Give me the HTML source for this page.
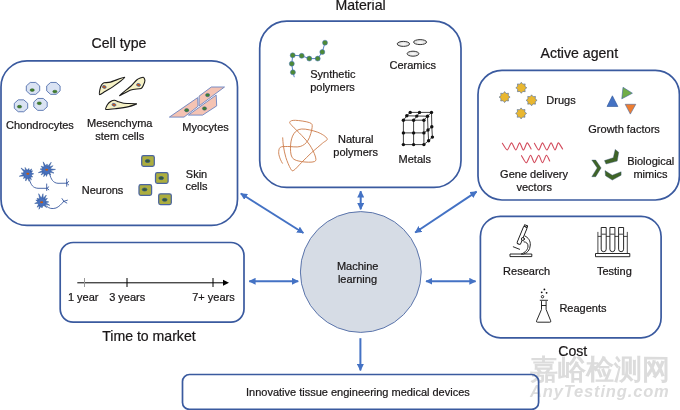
<!DOCTYPE html>
<html><head><meta charset="utf-8">
<style>
html,body{margin:0;padding:0;background:#fff;width:680px;height:410px;overflow:hidden}
svg{display:block;will-change:transform}
text{font-family:"Liberation Sans",sans-serif;fill:#1a1718;stroke:#1a1718;stroke-width:0.22px}
</style></head><body>
<svg width="680" height="410" viewBox="0 0 680 410">
<defs>
<marker id="ah" viewBox="0 0 10 10" refX="9" refY="5" markerWidth="3.5" markerHeight="3.5" orient="auto-start-reverse" markerUnits="strokeWidth">
<path d="M0,0 L10,5 L0,10 z" fill="#4472c4"/>
</marker>
</defs>
<!-- watermark -->
<g id="wm">
<text x="530" y="378.5" font-size="28" style="stroke:none;fill:#dcdcdc;font-weight:bold">嘉峪检测网</text>
<text x="530" y="396.8" font-size="16.5" style="stroke:none;fill:#dcdcdc;font-style:italic;font-weight:bold;letter-spacing:0.85px">AnyTesting.com</text>
</g>

<!-- boxes -->
<g fill="none" stroke="#3a5a9f" stroke-width="1.7">
<rect x="1" y="60.9" width="236.5" height="164.45" rx="26"/>
<rect x="259.7" y="21.2" width="201.3" height="166.2" rx="27"/>
<rect x="478" y="70.4" width="201.4" height="129.6" rx="24"/>
<rect x="480.4" y="216.4" width="180.7" height="121.4" rx="20"/>
<rect x="60.2" y="242.5" width="183.8" height="79.6" rx="13"/>
<rect x="182.5" y="374.5" width="356.1" height="34.9" rx="7"/>
</g>
<circle cx="360.8" cy="272" r="60.4" fill="#d6dce5" stroke="#5a74ab" stroke-width="1"/>

<!-- arrows -->
<g stroke="#4472c4" stroke-width="2" marker-start="url(#ah)" marker-end="url(#ah)">
<line x1="240.8" y1="193.5" x2="303.4" y2="233"/>
<line x1="476.6" y1="191.6" x2="415.2" y2="232.5"/>
<line x1="360.7" y1="191.2" x2="360.7" y2="209.3"/>
<line x1="249.3" y1="281.3" x2="298.2" y2="281.3"/>
<line x1="426.1" y1="281.3" x2="475.6" y2="281.3"/>
</g>
<line x1="360.4" y1="338.2" x2="360.4" y2="370.4" stroke="#4472c4" stroke-width="2" marker-end="url(#ah)"/>

<!-- titles -->
<g font-size="14.1">
<text x="91.5" y="47.9">Cell type</text>
<text x="335.5" y="10.2">Material</text>
<text x="540.5" y="57.5">Active agent</text>
<text x="102.2" y="340.9">Time to market</text>
<text x="558.3" y="355.6">Cost</text>
</g>
<g font-size="11">
<text x="6" y="128.6">Chondrocytes</text>
<text x="87" y="127">Mesenchyma</text>
<text x="95.3" y="139.8">stem cells</text>
<text x="182.3" y="130.7">Myocytes</text>
<text x="81.8" y="193.8">Neurons</text>
<text x="185.8" y="177.6">Skin</text>
<text x="185.5" y="190.3">cells</text>
<text x="310.2" y="78.1">Synthetic</text>
<text x="310.2" y="91.2">polymers</text>
<text x="389.5" y="69">Ceramics</text>
<text x="338" y="142.6">Natural</text>
<text x="333.3" y="155.9">polymers</text>
<text x="398.6" y="163.2">Metals</text>
<text x="546.3" y="104">Drugs</text>
<text x="588.3" y="132.9">Growth factors</text>
<text x="500.1" y="178">Gene delivery</text>
<text x="516.5" y="190.6">vectors</text>
<text x="627.2" y="165.4">Biological</text>
<text x="633.4" y="178">mimics</text>
<text x="503.1" y="274.6">Research</text>
<text x="596.9" y="274.6">Testing</text>
<text x="559.4" y="311.8">Reagents</text>
<text x="336.9" y="269.8">Machine</text>
<text x="337.9" y="283.1">learning</text>
<text x="67.9" y="301.4">1 year</text>
<text x="109.2" y="301.4">3 years</text>
<text x="192.2" y="301.4">7+ years</text>
<text x="246" y="396">Innovative tissue engineering medical devices</text>
</g>

<!-- timeline -->
<g stroke="#000" stroke-width="1">
<line x1="77.3" y1="282.8" x2="226" y2="282.8"/>
<line x1="84.5" y1="278" x2="84.5" y2="287" stroke="#999"/>
<line x1="127" y1="278" x2="127" y2="287"/>
<line x1="213" y1="278" x2="213" y2="287"/>
</g>
<path d="M229,282.8 L223,279.8 L223,285.8 z" fill="#000"/>

<!-- ICONS -->
<g stroke="#5470ae" stroke-width="0.9" fill="#dae3f3">
<path d="M39.7,90.87 L35.77,94.36 L30.23,94.36 L26.3,90.87 L26.3,85.93 L30.23,82.44 L35.77,82.44 L39.7,85.93Z"/>
<path d="M60.1,90.87 L56.17,94.36 L50.63,94.36 L46.7,90.87 L46.7,85.93 L50.63,82.44 L56.17,82.44 L60.1,85.93Z"/>
<path d="M27.7,108.27 L23.77,111.76 L18.23,111.76 L14.3,108.27 L14.3,103.33 L18.23,99.84 L23.77,99.84 L27.7,103.33Z"/>
<path d="M47.2,106.87 L43.27,110.36 L37.73,110.36 L33.8,106.87 L33.8,101.93 L37.73,98.44 L43.27,98.44 L47.2,101.93Z"/>
</g><g fill="#3f7f2c" stroke="#2e5d2a" stroke-width="0.5">
<ellipse cx="32.2" cy="90.1" rx="2.15" ry="1.4"/>
<ellipse cx="54.9" cy="91.6" rx="2.15" ry="1.4"/>
<ellipse cx="19.5" cy="106.7" rx="2.15" ry="1.4"/>
<ellipse cx="39.3" cy="103.3" rx="2.15" ry="1.4"/>
</g>
<g fill="#f6f2c6" stroke="#1a1a1a" stroke-width="1.1" stroke-linejoin="round">
<path d="M99.6,94.6 C99.09,94.4 99.71,90.46 99.9,89.5 C100.09,88.54 101.09,85.67 101.5,85 C101.91,84.33 103.11,83.09 104,82.8 C104.89,82.51 108.33,82.66 110.4,82.1 C112.47,81.54 124.4,76.77 124.7,77.2 C125,77.63 115.37,84.97 113.4,86.4 C111.43,87.83 106.38,90.68 105,91.5 C103.62,92.32 100.11,94.8 99.6,94.6Z"/>
<path d="M119.6,95.6 C119.61,95.2 129.26,87.59 131,86 C132.74,84.41 135.78,80.58 137,79.7 C138.22,78.82 142.41,77.12 143.2,77.2 C143.99,77.28 144.87,79.72 144.9,80.5 C144.93,81.28 143.88,84.21 143.5,85 C143.12,85.79 142.36,87.9 141.1,88.4 C139.84,88.9 133.05,89.28 130.9,90 C128.75,90.72 119.59,96 119.6,95.6Z"/>
<path d="M105.8,109.4 C104.95,108.99 106.98,105.32 107.5,104.5 C108.02,103.68 110.3,101.63 111,101.2 C111.7,100.77 113.74,100.14 114.5,100.2 C115.26,100.26 117.68,101.49 118.6,101.8 C119.52,102.11 121.91,103.1 123.7,103.3 C125.49,103.5 135.99,103.47 136.5,103.8 C137.01,104.13 130.85,106.12 128.8,106.6 C126.75,107.08 118.3,108.32 116,108.6 C113.7,108.88 106.65,109.81 105.8,109.4Z"/>
</g><g fill="#c55a11" stroke="#3a62b0" stroke-width="0.7">
<ellipse cx="104.2" cy="86.9" rx="2" ry="1.4" transform="rotate(15 104.2 86.9)"/>
<ellipse cx="138.5" cy="84.9" rx="2" ry="1.4" transform="rotate(15 138.5 84.9)"/>
<ellipse cx="114" cy="104.8" rx="2" ry="1.4" transform="rotate(15 114 104.8)"/>
</g>
<g fill="#f4c3b3" stroke="#6b83c2" stroke-width="0.9" stroke-linejoin="miter">
<path d="M169.4,117.1 L197.7,97.6 L198,106.3 L184,117.1Z"/>
<path d="M199.1,96.1 L211.3,87 L224.5,87 L199.1,105.9Z"/>
<path d="M188.4,115.1 L216.2,95.1 L216.7,105.9 L202.6,115.1Z"/>
</g><g fill="#3f7f2c" stroke="#2d5a8a" stroke-width="0.5">
<ellipse cx="186.7" cy="110.2" rx="2.1" ry="1.7"/>
<ellipse cx="207.6" cy="95.1" rx="2.1" ry="1.7"/>
<ellipse cx="204.5" cy="108.5" rx="2.1" ry="1.7"/>
</g>
<g fill="none" stroke="#3a5a9f" stroke-width="0.9" stroke-linecap="round">
<path d="M29.6,180 C31,185 33,188 38,188.3 L47,188.3 M46.7,184 L46.7,190.5 M47,188.3 L48.8,186.8 M47,188.3 L48.8,189.8"/>
<path d="M49.8,174.6 C51,179 53,183 58,183.3 L66.6,183.2 M66.7,179 L66.7,186.3 M66.7,183.2 L68.7,181.5 M66.7,183.2 L68.7,184.9"/>
<path d="M46.7,206.3 C49,208.5 52,209.2 56,208 C59,206.8 61.5,204 63.8,201.3 M63.8,201.3 L62,198.6 M63.8,201.3 L67.4,200.2 M63.8,201.3 L66.8,203"/>
</g>
<g fill="#4670be" stroke="#2f5597" stroke-width="0.5" stroke-linejoin="miter">
<path d="M31.36,173.06 L33.71,173.84 L31.44,174.81 L31.71,174.95 L31.32,175.28 L32.66,177.05 L30.46,176.8 L30.61,177.07 L30.41,176.84 L31.4,179.85 L28.97,177.82 L28.99,178.13 L29.23,177.71 L29.17,181.34 L27.53,178.1 L27.44,178.4 L27.37,178.1 L25.71,181.06 L25.68,177.66 L25.46,177.89 L25.5,177.57 L23.44,178.53 L24.22,176.39 L23.92,176.48 L23.95,175.95 L19.26,176.29 L23.5,174.26 L23.2,174.18 L23.51,174.37 L21.11,173.13 L23.77,172.65 L23.53,172.45 L24.06,172.06 L20.99,167.97 L25.26,170.79 L25.17,170.49 L25.36,170.72 L25.12,167.46 L27.01,170.13 L27.06,169.82 L27.56,170.1 L28.87,168.4 L29.26,170.51 L29.47,170.28 L29.31,170.53 L31.76,168.94 L30.66,171.65 L30.95,171.54 L30.32,171.26 L32.64,170.81 L31.26,172.73 L31.57,172.72Z"/>
<path d="M50.34,168.87 L55.47,169.41 L50.45,170.62 L50.73,170.75 L50.44,170.69 L53.99,173.11 L49.77,172.3 L49.96,172.55 L49.69,172.41 L50.74,174.99 L48.36,173.54 L48.42,173.85 L47.38,173.9 L46.51,176.42 L45.63,173.9 L45.48,174.18 L45.8,173.94 L43.69,176.71 L44.19,173.26 L43.94,173.45 L44.19,173.27 L41.02,174.96 L43.02,171.97 L42.72,172.04 L43.06,172.04 L38.38,172.65 L42.52,170.38 L42.21,170.32 L42.51,170.31 L40.07,169.07 L42.76,168.58 L42.51,168.39 L42.8,168.48 L41.08,166.21 L43.8,167.05 L43.67,166.77 L44.23,166.71 L43.2,161.86 L45.84,166.05 L45.89,165.74 L45.99,166.03 L47.06,163.94 L47.73,166.19 L47.91,165.94 L47.78,166.21 L51.22,162.23 L49.27,167.12 L49.55,166.97 L49.26,167.11 L53.01,165.66 L50.23,168.56 L50.54,168.54Z"/>
<path d="M45.7,201.09 L48.78,201.94 L45.71,202.84 L45.98,202.99 L45.74,202.7 L49.79,205.35 L45.06,204.31 L45.25,204.56 L45.04,204.35 L46.71,207.57 L43.73,205.51 L43.79,205.81 L42.77,205.88 L41.95,207.97 L41.03,205.92 L40.88,206.2 L41.18,205.95 L38.94,209.26 L39.56,205.31 L39.31,205.51 L39.83,205.48 L37.11,207.19 L38.53,204.31 L38.24,204.4 L38.14,203.6 L34.69,203.39 L37.8,201.89 L37.51,201.79 L37.81,201.7 L35.83,200.18 L38.32,200.03 L38.11,199.8 L38.18,200.29 L37.01,198.26 L39.26,198.91 L39.14,198.62 L39.6,198.66 L38.67,193.71 L41.24,198.04 L41.29,197.73 L41.49,198.01 L42.99,193.74 L43.22,198.26 L43.41,198.01 L43.19,198.25 L46.3,195.08 L44.66,199.2 L44.94,199.06 L44.59,199.13 L47.4,198.34 L45.55,200.59 L45.86,200.58Z"/>
</g>
</g><g fill="#c55a11">
<ellipse cx="27.8" cy="173.8" rx="1.5" ry="1"/>
<ellipse cx="46.7" cy="169.8" rx="1.5" ry="1"/>
<ellipse cx="41.6" cy="202.3" rx="1.5" ry="1"/>
</g>
<g fill="#acae3e" stroke="#4a64a0" stroke-width="1.25">
<rect x="141.7" y="155.6" width="12.6" height="10.8" rx="1.8"/>
<rect x="155.5" y="172.6" width="12.6" height="10.8" rx="1.8"/>
<rect x="139" y="184.6" width="12.6" height="10.8" rx="1.8"/>
<rect x="158.7" y="193.8" width="12.6" height="10.8" rx="1.8"/>
</g><g fill="#345c2c" stroke="#2f4f90" stroke-width="0.7">
<ellipse cx="147.6" cy="161" rx="2.4" ry="1.5"/>
<ellipse cx="161.2" cy="178.1" rx="2.4" ry="1.5"/>
<ellipse cx="144.6" cy="189.5" rx="2.4" ry="1.5"/>
<ellipse cx="164.7" cy="199.8" rx="2.4" ry="1.5"/>
</g>
<path d="M325,42.7 L322.3,52 L317.7,58.6 L309.3,58.6 L301.7,55.8 L292.7,55.3 L291.8,63.7 L292.9,72.3 L294.3,77.2" fill="none" stroke="#4472c4" stroke-width="0.9"/>
<g fill="#4e8a35" stroke="#4472c4" stroke-width="0.5">
<circle cx="325" cy="42.7" r="2.5"/>
<circle cx="322.3" cy="52" r="2.5"/>
<circle cx="317.7" cy="58.6" r="2.5"/>
<circle cx="309.3" cy="58.6" r="2.5"/>
<circle cx="301.7" cy="55.8" r="2.5"/>
<circle cx="292.7" cy="55.3" r="2.5"/>
<circle cx="291.8" cy="63.7" r="2.5"/>
<circle cx="292.9" cy="72.3" r="2.5"/>
</g>
<defs><radialGradient id="cg" cx="0.5" cy="0.55" r="0.6"><stop offset="0" stop-color="#ffffff"/><stop offset="1" stop-color="#cfcfcf"/></radialGradient></defs>
<g fill="url(#cg)" stroke="#3a3a3a" stroke-width="1">
<ellipse cx="403.4" cy="43.9" rx="6.2" ry="2.5"/>
<ellipse cx="420.1" cy="42.1" rx="6.5" ry="2.5"/>
<ellipse cx="413" cy="53.7" rx="5.9" ry="2.5"/>
</g>
<path d="M282.7,137.8 C282.83,139.25 282.97,143.2 283.5,146.5 C284.03,149.8 284.72,153.9 285.9,157.6 C287.08,161.3 289.28,166.58 290.6,168.7 C291.92,170.82 291.95,171.35 293.8,170.3 C295.65,169.25 298.78,165.3 301.7,162.4 C304.62,159.5 307.85,156.08 311.3,152.9 C314.75,149.72 319.77,145.68 322.4,143.3 C325.03,140.92 327.9,140.45 327.1,138.6 C326.3,136.75 321.83,133.8 317.6,132.2 C313.37,130.6 305.67,128.73 301.7,129 C297.73,129.27 295.65,131.15 293.8,133.8 C291.95,136.45 290.87,140.93 290.6,144.9 C290.33,148.87 290.35,154.82 292.2,157.6 C294.05,160.38 298,160.93 301.7,161.6 C305.4,162.27 312.15,162.53 314.4,161.6 C316.65,160.67 315.98,158.78 315.2,156 C314.42,153.22 311.95,148.33 309.7,144.9 C307.45,141.47 304.62,138.57 301.7,135.4 C298.78,132.23 294.18,128.15 292.2,125.9 C290.22,123.65 289.27,122.83 289.8,121.9 C290.33,120.97 292.08,120.17 295.4,120.3 C298.72,120.43 306.92,121.5 309.7,122.7 C312.48,123.9 312.37,124.58 312.1,127.5 C311.83,130.42 310.08,137.03 308.1,140.2 C306.12,143.37 303.63,145.45 300.2,146.5 C296.77,147.55 290.82,146.37 287.5,146.5 C284.18,146.63 281.77,146.23 280.3,147.3 C278.83,148.37 278.7,150.92 278.7,152.9 C278.7,154.88 279.68,157.48 280.3,159.2 C280.92,160.92 282.05,162.53 282.4,163.2" fill="none" stroke="#cc7a48" stroke-width="0.9" stroke-linecap="round"/>
<path d="M403.4,120.2 L423.9,120.2 M403.4,132.9 L423.9,132.9 M403.4,144.6 L423.9,144.6 M403.4,120.2 L403.4,144.6 M413.6,120.2 L413.6,144.6 M423.9,120.2 L423.9,144.6 M406.8,115.8 L427.5,116.2 M410.2,112.4 L431.5,112.4 M403.4,120.2 L406.8,115.8 M406.8,115.8 L410.2,112.4 M413.6,120.2 L416.8,116.1 M416.8,116.1 L419.5,112.4 M423.9,120.2 L427.5,116.2 M427.5,116.2 L431.5,112.4 M427.5,116.2 L428,130 M428,130 L428.6,140.7 M431.5,112.4 L431.8,126.8 M431.8,126.8 L432.4,137.1 M423.9,132.9 L428,130 M428,130 L431.8,126.8 M423.9,144.6 L428.6,140.7 M428.6,140.7 L432.4,137.1" stroke="#111" stroke-width="0.8" fill="none"/>
<g fill="#111">
<circle cx="403.4" cy="120.2" r="1.7"/>
<circle cx="403.4" cy="132.9" r="1.7"/>
<circle cx="403.4" cy="144.6" r="1.7"/>
<circle cx="413.6" cy="120.2" r="1.7"/>
<circle cx="413.6" cy="132.9" r="1.7"/>
<circle cx="413.6" cy="144.6" r="1.7"/>
<circle cx="423.9" cy="120.2" r="1.7"/>
<circle cx="423.9" cy="132.9" r="1.7"/>
<circle cx="423.9" cy="144.6" r="1.7"/>
<circle cx="406.8" cy="115.8" r="1.7"/>
<circle cx="416.8" cy="116.1" r="1.7"/>
<circle cx="427.5" cy="116.2" r="1.7"/>
<circle cx="410.2" cy="112.4" r="1.7"/>
<circle cx="419.5" cy="112.4" r="1.7"/>
<circle cx="431.5" cy="112.4" r="1.7"/>
<circle cx="428" cy="130" r="1.7"/>
<circle cx="431.8" cy="126.8" r="1.7"/>
<circle cx="428.6" cy="140.7" r="1.7"/>
<circle cx="432.4" cy="137.1" r="1.7"/>
</g>
<g fill="#e9b730" stroke="#4a6aa0" stroke-width="0.6">
<path d="M521.3,82.3 L522.79,84.2 L525.19,83.91 L524.9,86.31 L526.8,87.8 L524.9,89.29 L525.19,91.69 L522.79,91.4 L521.3,93.3 L519.81,91.4 L517.41,91.69 L517.7,89.29 L515.8,87.8 L517.7,86.31 L517.41,83.91 L519.81,84.2Z"/>
<path d="M504.6,91.6 L506.09,93.5 L508.49,93.21 L508.2,95.61 L510.1,97.1 L508.2,98.59 L508.49,100.99 L506.09,100.7 L504.6,102.6 L503.11,100.7 L500.71,100.99 L501,98.59 L499.1,97.1 L501,95.61 L500.71,93.21 L503.11,93.5Z"/>
<path d="M531.6,94.8 L533.09,96.7 L535.49,96.41 L535.2,98.81 L537.1,100.3 L535.2,101.79 L535.49,104.19 L533.09,103.9 L531.6,105.8 L530.11,103.9 L527.71,104.19 L528,101.79 L526.1,100.3 L528,98.81 L527.71,96.41 L530.11,96.7Z"/>
<path d="M521.1,107.9 L522.59,109.8 L524.99,109.51 L524.7,111.91 L526.6,113.4 L524.7,114.89 L524.99,117.29 L522.59,117 L521.1,118.9 L519.61,117 L517.21,117.29 L517.5,114.89 L515.6,113.4 L517.5,111.91 L517.21,109.51 L519.61,109.8Z"/>
</g>
<path d="M612.4,95.8 L607,106.5 L617.9,106.5Z" fill="#4472c4" stroke="#2f5597" stroke-width="0.6"/>
<path d="M623,87.3 L632.4,93.2 L621.8,98.8Z" fill="#70ad47" stroke="#3f5f9f" stroke-width="0.6"/>
<path d="M625.2,104.3 L635.8,104.3 L630.3,114.1Z" fill="#ed7d31" stroke="#4a6aa0" stroke-width="0.6"/>
<g fill="none" stroke="#d2495a" stroke-width="1.1" stroke-linecap="round" stroke-linejoin="round">
<path d="M502.4,143.3 C502.96,144.08 506.14,150.05 507.2,150 C508.26,149.95 510.5,142.9 511.5,142.9 C512.5,142.9 514.85,150 515.8,150 C516.75,150 518.71,142.9 519.6,142.9 C520.49,142.9 522.51,150 523.4,150 C524.29,150 526.3,143.02 527.2,142.9 C528.1,142.78 530.64,148.29 531.1,149"/>
<path d="M534.4,143.3 C534.9,144.08 537.75,150.05 538.7,150 C539.65,149.95 541.56,142.9 542.5,142.9 C543.44,142.9 545.8,150 546.8,150 C547.8,150 550.14,142.9 551.1,142.9 C552.06,142.9 554.16,150 555,150 C555.84,150 557.41,143.02 558.3,142.9 C559.19,142.78 562.1,148.29 562.6,149"/>
<path d="M521.5,155.7 C522.06,156.53 525.24,162.85 526.3,162.8 C527.36,162.75 529.65,155.3 530.6,155.3 C531.55,155.3 533.45,162.8 534.4,162.8 C535.35,162.8 537.75,155.3 538.7,155.3 C539.65,155.3 541.6,162.8 542.5,162.8 C543.4,162.8 545.56,155.51 546.4,155.3 C547.24,155.09 549.32,160.34 549.7,161"/>
</g>
<g fill="#3f6427" stroke="#34507a" stroke-width="0.4" stroke-linejoin="miter">
<path d="M591.8,160.1 L595.7,160.1 L601.1,167.9 L595.7,176.7 L591.8,176.7 L597.2,167.9Z"/>
<path d="M605,170.6 L612.3,175.2 L621.1,171.8 L621.1,175.2 L612.3,180.1 L605.5,175.7Z"/>
<path d="M615.2,149.4 L618.7,152.3 L617.2,161.1 L606,164 L604.5,160.6 L613.3,157.7Z"/>
</g>
<g fill="none" stroke="#111" stroke-width="0.9" stroke-linejoin="round" stroke-linecap="round">
<rect x="510.4" y="254" width="21.4" height="2.6" fill="#fff"/>
<rect x="512.75" y="233.5" width="18.61" height="3.8" rx="1.2" transform="rotate(112.43 522.05 235.4)" fill="#fff"/>
<rect x="511.15" y="233.7" width="1.6" height="3.4" rx="0.5" transform="rotate(112.43 522.05 235.4)" fill="#fff"/>
<path d="M524.9,236 C528.5,237.5 530.5,241 530.3,245 C530,250 527.5,253 523.5,254 L521.3,254 C525.3,252.5 528,249.5 528,246 C528,243.5 526.5,242 524,241.8" fill="#fff"/>
<circle cx="522.9" cy="239" r="1.5" fill="#fff"/>
<path d="M513.3,246.8 L519.6,249.3"/>
</g>
<g fill="none" stroke="#111" stroke-width="0.9" stroke-linejoin="round">
<rect x="595.5" y="253.5" width="34.3" height="3.2" fill="#fff"/>
<path d="M597.9,231.9 L597.9,253.5 M627.3,231.9 L627.3,253.5 M597.9,236.4 L627.3,236.4" stroke="#333"/>
<path d="M601.2,227.5 L601.2,249.2 A2.5,2.5 0 0 0 606.2,249.2 L606.2,227.5 Z" fill="#fff"/>
<path d="M601.2,234.2 L606.2,234.2" stroke="#555" stroke-width="1.1"/>
<path d="M609.9,227.5 L609.9,249.2 A2.5,2.5 0 0 0 614.9,249.2 L614.9,227.5 Z" fill="#fff"/>
<path d="M609.9,234.2 L614.9,234.2" stroke="#555" stroke-width="1.1"/>
<path d="M618.6,227.5 L618.6,249.2 A2.5,2.5 0 0 0 623.6,249.2 L623.6,227.5 Z" fill="#fff"/>
<path d="M618.6,234.2 L623.6,234.2" stroke="#555" stroke-width="1.1"/>
</g>
<g fill="none" stroke="#111" stroke-width="0.9" stroke-linejoin="round">
<path d="M541.5,301.1 L541.5,309.4 L536.6,320.8 Q536,322.2 537.5,322.2 L549.8,322.2 Q551.3,322.2 550.7,320.8 L546.1,309.4 L546.1,301.1"/>
<path d="M539.8,300.3 L548,300.3 M541.5,305.5 L546.1,305.5"/>
<circle cx="542.5" cy="296.7" r="1.2"/>
</g><g fill="#111">
<circle cx="544.4" cy="289.4" r="0.9"/>
<circle cx="541.7" cy="292.3" r="0.9"/>
<circle cx="546.6" cy="292.8" r="0.9"/>
</g>

</svg>
</body></html>
